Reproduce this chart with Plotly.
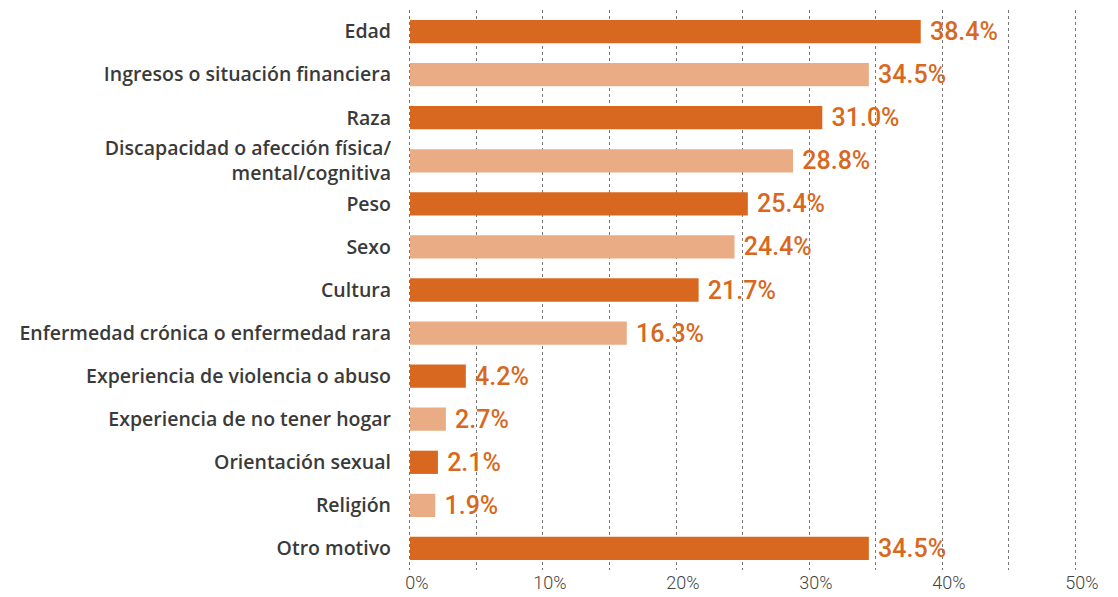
import plotly.graph_objects as go

categories = [
    "Edad",
    "Ingresos o situación financiera",
    "Raza",
    "Discapacidad o afección física/<br>mental/cognitiva",
    "Peso",
    "Sexo",
    "Cultura",
    "Enfermedad crónica o enfermedad rara",
    "Experiencia de violencia o abuso",
    "Experiencia de no tener hogar",
    "Orientación sexual",
    "Religión",
    "Otro motivo",
]
values = [38.4, 34.5, 31.0, 28.8, 25.4, 24.4, 21.7, 16.3, 4.2, 2.7, 2.1, 1.9, 34.5]
tick_vals = [0, 10, 20, 30, 40, 50]
tick_text = ["0%", "10%", "20%", "30%", "40%", "50%"]

DARK = "#D86820"
LIGHT = "#EAAC84"
colors = [DARK if i % 2 == 0 else LIGHT for i in range(len(values))]

fig = go.Figure(
    go.Bar(
        x=values,
        y=categories,
        orientation="h",
        marker=dict(color=colors, line=dict(width=0)),
        text=["\u00a0" + f"{v:.1f}%" for v in values],
        textposition="outside",
        constraintext="none",
        textfont=dict(family="Roboto", size=25, color=DARK, weight=500),
        cliponaxis=False,
        hoverinfo="skip",
    )
)

fig.update_layout(
    width=1118,
    height=597,
    margin=dict(l=406, r=39, t=10, b=27, autoexpand=False),
    plot_bgcolor="white",
    paper_bgcolor="white",
    bargap=0.46,
    showlegend=False,
    font=dict(family="Open Sans"),
)
fig.update_xaxes(
    range=[-0.3, 50.3],
    tickvals=tick_vals,
    ticktext=tick_text,
    showgrid=True,
    gridcolor="#777777",
    griddash="dot",
    gridwidth=1,
    zeroline=False,
    minor=dict(dtick=5, showgrid=True, gridcolor="#777777", griddash="dot", gridwidth=1),
    tickfont=dict(family="Roboto", size=18, color="#444444", weight=300),
    ticks="",
    ticklabelstandoff=0,
    ticklabelshift=7,
    automargin=False,
)
fig.update_yaxes(
    autorange="reversed",
    showgrid=False,
    ticks="",
    ticklabelstandoff=14,
    tickfont=dict(family="Open Sans", size=19.5, color="#3a3a3a", weight=600),
    automargin=False,
)

fig.write_html(
    "out.html",
    config={"displayModeBar": False},
    post_script="document.body.style.margin='0';",
)
